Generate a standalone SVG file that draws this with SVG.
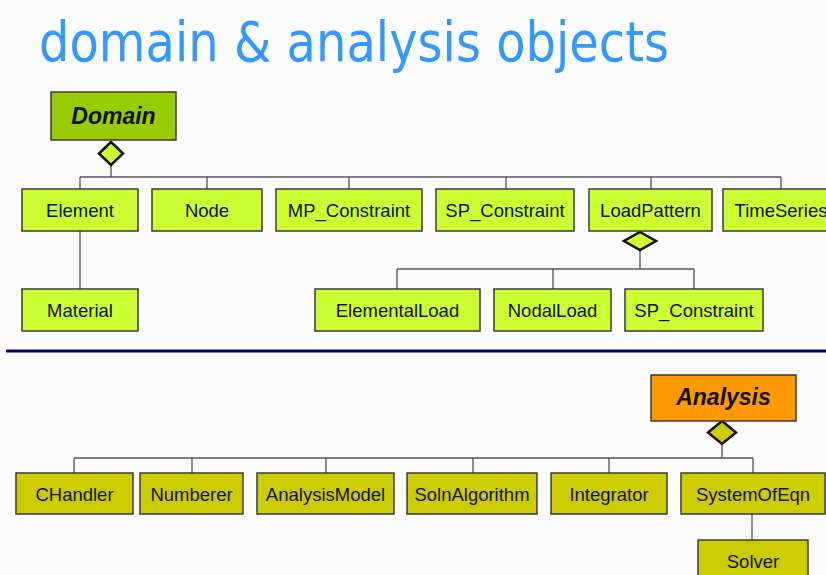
<svg xmlns="http://www.w3.org/2000/svg" width="826" height="575" viewBox="0 0 826 575">
<style>
.bg{fill:#fcfcfd}
.box{stroke:#3a3a3a;stroke-width:1.5}
.dom{fill:#99cc00}
.lg{fill:#ccff33}
.ana{fill:#ff9900}
.ol{fill:#cccc00}
.t{font-family:"Liberation Sans",Arial,sans-serif;font-size:18.5px;fill:#111;text-anchor:middle}
.tb{font-family:"Liberation Sans",Arial,sans-serif;font-size:23px;font-weight:bold;font-style:italic;fill:#111;text-anchor:middle}
.ln{stroke:#555;stroke-width:1.3;fill:none}
.dia{stroke:#111;stroke-width:2.5}
</style>
<rect class="bg" x="0" y="0" width="826" height="575"/>
<text x="39" y="61" font-family="'DejaVu Sans',sans-serif" font-size="55" fill="#3399ff" textLength="630" lengthAdjust="spacingAndGlyphs">domain &amp; analysis objects</text>
<line x1="6" y1="351" x2="826" y2="351" stroke="#000066" stroke-width="3"/>
<g id="connectors">
<path class="ln" d="M111 165V177M80 177H781M80 177V189M207 177V189M349 177V189M506 177V189M651 177V189M781 177V189"/>
<path class="ln" d="M80 231V289"/>
<path class="ln" d="M640 250V269M397 269H694M397 269V289M553 269V289M694 269V289"/>
<path class="ln" d="M722 444V458M74 458H753M74 458V473M192 458V473M326 458V473M473 458V473M609 458V473M753 458V473"/>
<path class="ln" d="M752 514V540"/>
<polygon class="dia lg" points="111,142 123,153.5 111,165 99,153.5"/>
<polygon class="dia lg" points="640,232 656,241 640,250 624,241"/>
<polygon class="dia ol" points="722,421 736,432.5 722,444 708,432.5"/>
</g>
<g id="Domain"><rect class="box dom" x="51" y="92" width="125" height="48"/><text class="tb" x="113.5" y="124">Domain</text></g>
<g id="Element"><rect class="box lg" x="22" y="189" width="116" height="42"/><text class="t" x="80" y="217">Element</text></g>
<g id="Node"><rect class="box lg" x="152" y="189" width="110" height="42"/><text class="t" x="207" y="217">Node</text></g>
<g id="MP_Constraint"><rect class="box lg" x="276" y="189" width="146" height="42"/><text class="t" x="349" y="217">MP_Constraint</text></g>
<g id="SP_Constraint"><rect class="box lg" x="436" y="189" width="138" height="42"/><text class="t" x="505" y="217">SP_Constraint</text></g>
<g id="LoadPattern"><rect class="box lg" x="589" y="189" width="123" height="42"/><text class="t" x="650.5" y="217">LoadPattern</text></g>
<g id="TimeSeries"><rect class="box lg" x="723" y="189" width="116" height="42"/><text class="t" x="781" y="217">TimeSeries</text></g>
<g id="Material"><rect class="box lg" x="22" y="289" width="116" height="42"/><text class="t" x="80" y="317">Material</text></g>
<g id="ElementalLoad"><rect class="box lg" x="315" y="289" width="165" height="42"/><text class="t" x="397.5" y="317">ElementalLoad</text></g>
<g id="NodalLoad"><rect class="box lg" x="494" y="289" width="117" height="42"/><text class="t" x="552.5" y="317">NodalLoad</text></g>
<g id="SP_Constraint2"><rect class="box lg" x="625" y="289" width="138" height="42"/><text class="t" x="694" y="317">SP_Constraint</text></g>
<g id="Analysis"><rect class="box ana" x="651" y="375" width="145" height="46"/><text class="tb" x="723.5" y="405">Analysis</text></g>
<g id="CHandler"><rect class="box ol" x="16" y="473" width="117" height="41"/><text class="t" x="74.5" y="501">CHandler</text></g>
<g id="Numberer"><rect class="box ol" x="140" y="473" width="103" height="41"/><text class="t" x="191.5" y="501">Numberer</text></g>
<g id="AnalysisModel"><rect class="box ol" x="257" y="473" width="137" height="41"/><text class="t" x="325.5" y="501">AnalysisModel</text></g>
<g id="SolnAlgorithm"><rect class="box ol" x="407" y="473" width="130" height="41"/><text class="t" x="472" y="501">SolnAlgorithm</text></g>
<g id="Integrator"><rect class="box ol" x="551" y="473" width="116" height="41"/><text class="t" x="609" y="501">Integrator</text></g>
<g id="SystemOfEqn"><rect class="box ol" x="681" y="473" width="144" height="41"/><text class="t" x="753" y="501">SystemOfEqn</text></g>
<g id="Solver"><rect class="box ol" x="698" y="540" width="110" height="42"/><text class="t" x="753" y="568">Solver</text></g>
</svg>
